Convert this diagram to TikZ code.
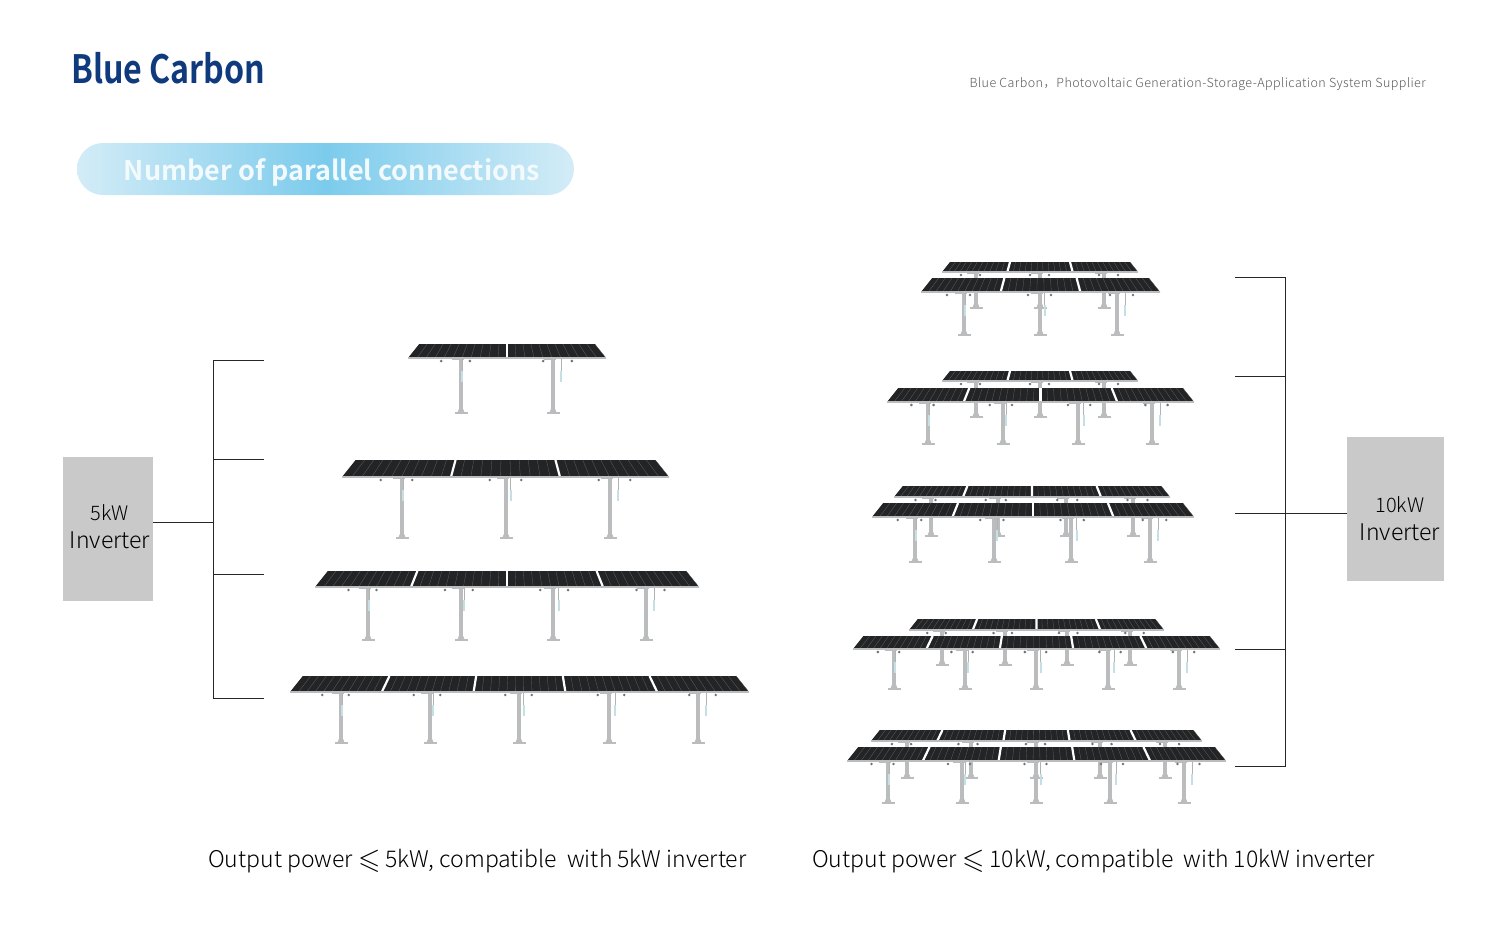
\documentclass[tikz,border=0pt]{standalone}
\usepackage{amssymb}
\usepackage{fontspec}
\setmainfont{Noto Sans CJK SC Light}
\newfontfamily\boldfont{Noto Sans CJK SC Bold}
\newfontfamily\logofont[FakeStretch=0.825]{Noto Sans CJK SC Bold}
\newfontfamily\slogfont[LetterSpace=3.4]{Noto Sans CJK SC Light}
\usepackage{xcolor}
\definecolor{invgray}{HTML}{C9C9C9}
\definecolor{brandblue}{HTML}{0F3A7D}
\definecolor{pillmid}{HTML}{7CCBEC}
\definecolor{pillend}{HTML}{D3ECF7}
\definecolor{cellblack}{HTML}{222426}
\definecolor{railgray}{HTML}{BABCBD}
\definecolor{fixteal}{HTML}{C4E0E4}
\tikzset{
	invbox/.style={fill=invgray},
	invtext/.style={align=center, inner sep=0pt, font=\fontsize{23}{28}\selectfont, text=black},
	wire/.style={draw=black!85, line width=1pt},
	caption/.style={inner sep=0pt, font=\fontsize{23}{28}\selectfont, text=black},
}
\newcommand{\lesssign}{\raisebox{-1pt}{\scalebox{1.25}{\(\leqslant\)}}}
% xl, xr, ytop, ybot, modules, legs, yfoot, fixture opacity
\newcommand{\pvrow}[8]{
	\pgfmathsetmacro{\dxs}{0.8*(#4-#3)}
	\pgfmathsetmacro{\wbot}{(#2-#1)/#5}
	\pgfmathsetmacro{\wtop}{(#2-#1-2*\dxs)/#5}
	\foreach \lx [count=\k] in {#6} {
		\pgfmathsetmacro{\fx}{1+7*(\k-1)/(#5-1)}
		\pgfmathsetmacro{\dc}{10*(\k-1)/(#5-1)-5.5}
		\pgfmathsetmacro{\dh}{0.145*\wbot}
		\fill[railgray] (\lx-2.2, #4) rectangle (\lx+2.2, #7-2);
		\fill[railgray] (\lx-2.2, #7-5) -- (\lx+2.2, #7-5) -- (\lx+3.5, #7-1.5) -- (\lx-3.5, #7-1.5) -- cycle;
		\fill[railgray] (\lx-6.5, #7-1.7) rectangle (\lx+6.5, #7);
		\fill[railgray] (\lx-9, #4+0.5) rectangle (\lx+3, #4+2);
		\fill[black!55] (\lx+\dc-\dh, #4+3) circle (1.4);
		\fill[black!55] (\lx+\dc+\dh, #4+3) circle (1.4);
		\draw[black!30, line width=0.4pt, opacity=#8] (\lx+\fx, #4+1) -- (\lx+\fx, #4+13);
		\fill[fixteal, opacity=#8] (\lx+\fx-1, #4+13) rectangle (\lx+\fx+1, #4+24);
	}
	\fill[cellblack] (#1+\dxs, #3) -- (#2-\dxs, #3) -- (#2, #4) -- (#1, #4) -- cycle;
	\pgfmathtruncatemacro{\ncell}{11*#5}
	\foreach \c in {1,...,\ncell} {
		\pgfmathsetmacro{\xb}{#1+\c*\wbot/11}
		\pgfmathsetmacro{\xt}{#1+\dxs+\c*\wtop/11}
		\draw[white!38!black, line width=0.3pt] (\xt, #3) -- (\xb, #4);
	}
	\foreach \m in {1,...,#5} {
		\ifnum\m<#5
			\pgfmathsetmacro{\xb}{#1+\m*\wbot}
			\pgfmathsetmacro{\xt}{#1+\dxs+\m*\wtop}
			\draw[white, line width=2.2pt] (\xt, #3) -- (\xb, #4);
		\fi
	}
	\draw[railgray, line width=1.8pt] (#1, #4) -- (#2, #4);
}
\begin{document}
\begin{tikzpicture}[x=1pt, y=-1pt]
	\useasboundingbox (0, 0) rectangle (1500, 930);

	\node[anchor=west, inner sep=0pt, text=brandblue, font=\logofont\fontsize{39}{42}\selectfont] (logo) at (71, 68) {Blue Carbon};
	\node[anchor=east, inner sep=0pt, text=black!65, font=\slogfont\fontsize{12.5}{14}\selectfont] (slogan) at (1426, 84) {Blue Carbon，Photovoltaic Generation-Storage-Application System Supplier};

	\shade[left color=pillend, right color=pillend, middle color=pillmid, rounded corners=26pt] (77, 143) rectangle (574, 195);
	\node[text=white!90!pillmid, inner sep=0pt, font=\boldfont\fontsize{27}{30}\selectfont] (pilltext) at (332, 172) {Number of parallel connections};

	\pvrow{408}{606}{344}{358}{2}{461,553}{414}{1}
	\pvrow{342}{669}{460}{477}{3}{402,506,610}{539}{1}
	\pvrow{315}{699}{571}{587}{4}{368,461,553,646}{641}{1}
	\pvrow{290}{749}{676}{692}{5}{341,430,519,609,698}{744}{1}

	\pvrow{942}{1138}{262}{272}{3}{976,1040,1104}{309}{0}
	\pvrow{921}{1160}{278}{292}{3}{964,1040,1117}{336}{1}
	\pvrow{942}{1138}{371}{381}{3}{976,1040,1104}{418}{0}
	\pvrow{887}{1194}{388}{402}{4}{928,1003,1078,1152}{445}{1}
	\pvrow{894}{1170}{486}{497}{4}{931,998,1066,1133}{537}{0}
	\pvrow{872}{1194}{503}{517}{4}{915,994,1071,1150}{563}{1}
	\pvrow{909}{1164}{619}{630}{4}{942,1005,1067,1130}{666}{0}
	\pvrow{853}{1220}{636}{649}{5}{894,965,1036,1108,1179}{690}{1}
	\pvrow{871}{1202}{730}{741}{5}{907,971,1036,1100,1165}{779}{0}
	\pvrow{847}{1226}{747}{761}{5}{888,962,1036,1110,1184}{804}{1}

	\node[invbox, minimum width=90pt, minimum height=144pt] (inv5) at (108, 529) {};
	\node[invtext] (lab5) at (110, 527) {{\fontsize{20}{28}\selectfont 5kW\hspace{3pt}}\\Inverter};
	\node[invbox, minimum width=97pt, minimum height=144pt] (inv10) at (1395.5, 509) {};
	\node[invtext] (lab10) at (1400, 519) {{\fontsize{20}{28}\selectfont 10kW\hspace{5pt}}\\Inverter};

	\coordinate (j5) at (213, 522);
	\coordinate (l1) at (264, 360);
	\coordinate (l2) at (264, 459);
	\coordinate (l3) at (264, 574);
	\coordinate (l4) at (264, 698);
	\draw[wire] (inv5.east |- j5) -- (j5);
	\draw[wire] (l1) -- (213, 360) -- (213, 698) -- (l4);
	\draw[wire] (213, 459) -- (l2);
	\draw[wire] (213, 574) -- (l3);

	\coordinate (j10) at (1285, 513);
	\coordinate (r1) at (1235, 277);
	\coordinate (r2) at (1235, 376);
	\coordinate (r3) at (1235, 513);
	\coordinate (r4) at (1235, 649);
	\coordinate (r5) at (1235, 766);
	\draw[wire] (inv10.west |- j10) -- (r3);
	\draw[wire] (r1) -- (1285, 277) -- (1285, 766) -- (r5);
	\draw[wire] (1285, 376) -- (r2);
	\draw[wire] (1285, 649) -- (r4);

	\node[caption, anchor=west] (cap5) at (208, 861) {Output power \lesssign{} 5kW, compatible\ \ with 5kW inverter};
	\node[caption, anchor=west] (cap10) at (812, 861) {Output power \lesssign{} 10kW, compatible\ \ with 10kW inverter};
\end{tikzpicture}
\end{document}
